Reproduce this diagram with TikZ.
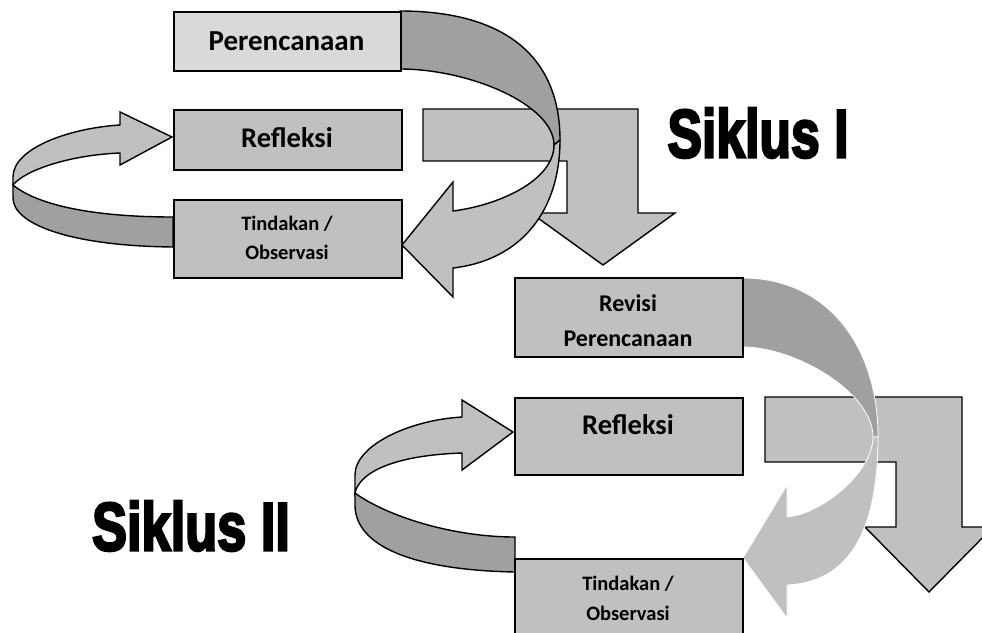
\documentclass[tikz,border=0pt]{standalone}
\usepackage{fontspec}
\setmainfont{Carlito}
\newfontfamily\sikfont{Liberation Sans}[FakeBold=4]
\definecolor{gsilver}{HTML}{C0C0C0}
\definecolor{glight}{HTML}{D9D9D9}
\definecolor{gdark}{HTML}{A0A0A0}
\begin{document}
\begin{tikzpicture}[x=1pt,y=-1pt,line join=miter,
  box/.style={draw=black,line width=1.5pt,fill=gsilver,inner sep=0pt,anchor=north west},
  txt/.style={inner sep=0pt,font=\bfseries},
  outl/.style={draw=black,line width=1.4pt},
  backpart/.style={outl,fill=gdark},
  frontpart/.style={outl,fill=gsilver},
  fadeback/.style={fill=gdark,draw=white,line width=0.8pt},
  fadefront/.style={fill=gsilver,draw=white,line width=0.8pt},
  siklus/.style={inner sep=0pt,font=\sikfont\bfseries\fontsize{68}{68}\selectfont}]
\useasboundingbox (0,0) rectangle (982,632);
\fill[white] (0,0) rectangle (982,632);
\clip (0,0) rectangle (982,632);

% ---------------- Siklus I ----------------
% left loop (Tindakan -> Refleksi)
\path[backpart] (13,185) -- (13,198) .. controls (13,224) and (70,246) .. (173,247)
  -- (173,217) .. controls (100,217) and (40,207) .. (13,185) -- cycle;
\path[frontpart] (120,125) .. controls (70,128) and (13,148) .. (13,177) -- (13,185)
  .. controls (25,170) and (70,155) .. (120,153) -- (120,165) -- (172,137) -- (120,112) -- cycle;
% bent arrow
\path[frontpart] (423,109) -- (638,109) -- (638,213) -- (675,213) -- (603,265) -- (531,213)
  -- (567,213) -- (567,161) -- (423,161) -- cycle;
% curved arrow (Perencanaan -> Tindakan)
\path[backpart] (400,11) .. controls (504,11) and (560,56) .. (560,140) -- (554,145)
  .. controls (554,105) and (470,69) .. (400,69) -- cycle;
\path[frontpart] (554,145) .. controls (554,180) and (500,205) .. (453,211) -- (453,182)
  -- (402,245) -- (453,297) -- (453,268) .. controls (522,260) and (560,210) .. (560,140) -- cycle;
% boxes
\node[box,fill=glight,minimum width=227pt,minimum height=59pt] (p1) at (173,11) {};
\node[box,minimum width=228pt,minimum height=60pt] (r1) at (173,109) {};
\node[box,minimum width=228pt,minimum height=78pt] (t1) at (173,199) {};
\node[txt,font=\bfseries\fontsize{29}{30}\selectfont] (p1t) at (286.5,41) {Perencanaan};
\node[txt,font=\bfseries\fontsize{28.5}{30}\selectfont] (r1t) at (287,138) {Refleksi};
\node[txt,align=center,font=\bfseries\fontsize{20.5}{29.5}\selectfont] (t1t) at (287,238) {Tindakan /\\Observasi};
\node[siklus] (s1) at (758,133) {\scalebox{0.76}[1]{Siklus I}};

% ---------------- Siklus II ----------------
% left loop
\path[backpart] (355,493) -- (355,505) .. controls (355,545) and (410,570) .. (515,572)
  -- (515,537) .. controls (450,537) and (385,515) .. (355,493) -- cycle;
\path[frontpart] (462,417) .. controls (410,420) and (355,445) .. (355,475) -- (355,493)
  .. controls (360,470) and (400,455) .. (462,453) -- (462,470) -- (513,432) -- (462,400) -- cycle;
% bent arrow
\path[frontpart] (765,397) -- (962,397) -- (962,527) -- (993,527) -- (929,592) -- (865,527)
  -- (896,527) -- (896,462) -- (765,462) -- cycle;
% curved arrow (Revisi Perencanaan -> Tindakan)
\path[fadeback] (743,278) .. controls (824,278) and (878,342) .. (878,437) -- (873,437)
  .. controls (873,392) and (795,347) .. (743,347) -- cycle;
\path[fadefront] (873,437) .. controls (873,472) and (822,514) .. (787,517) -- (787,485)
  -- (743,558) -- (787,618) -- (787,585) .. controls (850,582) and (878,530) .. (878,437) -- cycle;
% boxes
\node[box,minimum width=228pt,minimum height=79pt] (p2) at (514,277) {};
\node[box,minimum width=228pt,minimum height=77pt] (r2) at (514,397) {};
\node[box,minimum width=228pt,minimum height=78pt] (t2) at (514,558) {};
\node[txt,align=center,font=\bfseries\fontsize{24}{35}\selectfont] (p2t) at (628,321) {Revisi\\Perencanaan};
\node[txt,font=\bfseries\fontsize{28.5}{30}\selectfont] (r2t) at (628,425) {Refleksi};
\node[txt,align=center,font=\bfseries\fontsize{20.5}{30}\selectfont] (t2t) at (628,598) {Tindakan /\\Observasi};
\node[siklus] (s2) at (191,526) {\scalebox{0.77}[1]{Siklus II}};
\end{tikzpicture}
\end{document}
